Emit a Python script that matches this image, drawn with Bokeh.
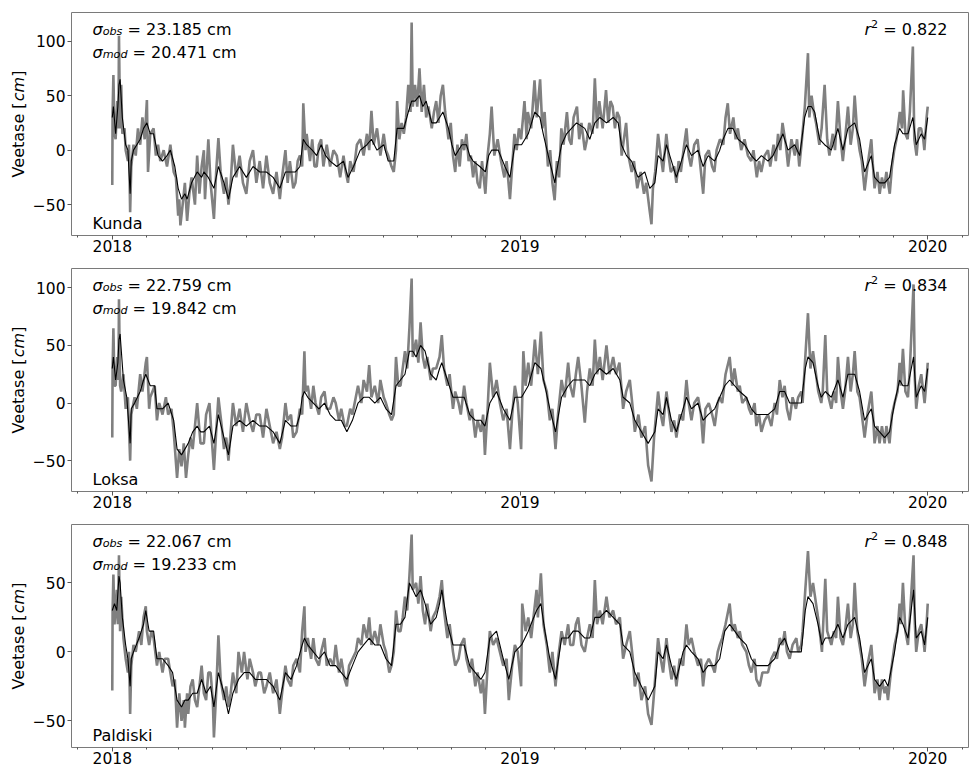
import datetime as dt
import math

from bokeh.core.properties import value
from bokeh.embed import file_html
from bokeh.layouts import column, row
from bokeh.models import FixedTicker, Label, Range1d
from bokeh.plotting import figure
from bokeh.resources import INLINE

# Sea level (cm) at three Estonian stations, 2018-2019.
# Each entry: (days since 2018-01-01, sea level in cm)

kunda_obs = [
    (0, -32), (0.3, 35), (1, 69), (2, 15), (3, 10), (4.5, 45), (5.5, 20), (6, 105), (7, 20), (8, 60),
    (9, 15), (11, 20), (12, 0), (14, -10), (15, 5), (16, -57), (17, -15), (19, 5), (21, -5), (23, 20),
    (25, 5), (27, 30), (29, 10), (31, 46), (32, -20), (34, 15), (37, 20), (39, -5), (41, 5), (43, -10),
    (46, 0), (49, -15), (52, 5), (55, -20), (57, -25), (59, -60), (60, -45), (61, -69), (63, -50), (65, -30),
    (67, -65), (69, -40), (71, -25), (74, -50), (76, -5), (78, -40), (80, -15), (82, 0), (83, -45), (86, 10),
    (88, -30), (91, -63), (93, -20), (95, 11), (97, -20), (100, -40), (102, -25), (104, -50), (106, -30), (108, 5),
    (111, -25), (114, -5), (117, -30), (120, -40), (123, -10), (126, 0), (129, -30), (132, -10), (135, -35), (138, -5),
    (141, -30), (144, -40), (147, -20), (150, -45), (152, -25), (155, 0), (157, -30), (159, -10), (162, -35), (164, -30),
    (166, -10), (168, -5), (170, -15), (171, 43), (173, 0), (174, 15), (177, -10), (179, 10), (181, -15), (183, -15),
    (185, 5), (187, 10), (189, -15), (192, 5), (195, -15), (198, 0), (201, -5), (204, -25), (207, -5), (209, -20),
    (211, -30), (213, -10), (216, -20), (219, 5), (222, 10), (225, -5), (228, 15), (230, 0), (232, 36), (234, 5),
    (237, 20), (240, -5), (243, 15), (245, 0), (247, -5), (250, -15), (252, -20), (254, 0), (255, 45), (257, 10),
    (259, 25), (261, 15), (263, 30), (265, 60), (267, 35), (268, 117), (269, 40), (271, 60), (273, 40), (275, 75),
    (277, 35), (279, 60), (281, 30), (283, 40), (286, 20), (288, 35), (290, 45), (292, 25), (294, 50), (296, 60),
    (298, 35), (301, 10), (303, 25), (305, -5), (307, -20), (309, 5), (311, -15), (313, 10), (315, 0), (317, 15),
    (319, -10), (321, -5), (323, -25), (325, -10), (327, -30), (329, -35), (331, -10), (334, -40), (336, -5), (338, 15),
    (339.6, 40), (342, -5), (345, 10), (348, -10), (351, -25), (353, -10), (356, -45), (358, -15), (360, 15), (362, 0),
    (364, 20), (366, 10), (369, 45), (371, 10), (372, 35), (375, 20), (378, 64), (380, 30), (383, 65), (385, 20),
    (387, 35), (390, -15), (392, 0), (394, -30), (396, -46), (398, -10), (400, -25), (402, 20), (404, 5), (407, 35),
    (409, 10), (411, 5), (413, 30), (416, 40), (418, 10), (420, 25), (423, 0), (425, 10), (427, 25), (430, 15),
    (432, 66), (434, 20), (436, 45), (439, 20), (442, 55), (444, 25), (446, 45), (448, 40), (450, 20), (452, 35),
    (454, 30), (456, -5), (458, 10), (460, 25), (462, -5), (465, -20), (467, -10), (470, -35), (473, -20), (476, -40),
    (478, -30), (481, -55), (482.7, -68), (484, -35), (486, -20), (488.6, 15), (491, -5), (493, -20), (496, 15), (498, -5),
    (500, -20), (503, -15), (505, -30), (507, -10), (509, -20), (512, 5), (514, 20), (516, -5), (518, -15), (521, 5),
    (524, 10), (526, -10), (529, -40), (531, -5), (534, 0), (537, -15), (539, -20), (541, 0), (544, 10), (547, 5),
    (549, 30), (551, 43), (553, 15), (556, 30), (558, 10), (560, 20), (563, 0), (566, 10), (569, -5), (572, -10),
    (574, 0), (577, -25), (579, -10), (581, -20), (584, -5), (587, 0), (589, -15), (592, 5), (594, -10), (596, 15),
    (598, 0), (600, 25), (603, 5), (605, -15), (608, 10), (611, -5), (613, 10), (615, -15), (617, 5), (620, 40),
    (622.8, 89), (624, 30), (626, 50), (628, 35), (630, 25), (633, 5), (635, 20), (637.7, 60), (640, 10), (642, -5),
    (645, 15), (647, 0), (649.6, 45), (652, 10), (654, -10), (656, 10), (658.6, 40), (661, 5), (663, 20), (664.6, 50),
    (667, 15), (669, 0), (671, -10), (673.5, -37), (676, -15), (679.5, 10), (681, -15), (682.4, -35), (685, -20), (687, -40),
    (689, -25), (691, -35), (693, -20), (696, -40), (698, -15), (700, 0), (702, 10), (705, 35), (707, 20), (708, 55),
    (710, 15), (712, 10), (714, 35), (716.7, 95), (718, 10), (720, -5), (722, 20), (724, 20), (726, 10), (727, 0),
    (729, 30), (730, 40),
]

kunda_mod = [
    (0, 30), (1, 40), (3, 15), (5, 40), (6, 60), (7, 65), (9, 30), (12, 5), (14, 0), (16, -40),
    (17, -10), (19, 0), (22, 5), (25, 10), (28, 20), (31, 25), (34, 15), (37, 15), (41, -5), (45, -10),
    (49, -5), (52, 0), (56, -15), (59, -35), (62, -45), (65, -40), (67, -45), (71, -30), (76, -20), (80, -25),
    (82, -20), (86, -25), (91, -35), (95, -15), (100, -30), (104, -45), (108, -25), (114, -15), (120, -25), (126, -15),
    (132, -20), (138, -20), (144, -25), (150, -35), (155, -20), (159, -20), (164, -20), (168, -15), (171, 10), (174, 5),
    (179, 0), (183, -5), (187, 5), (191, -5), (195, -10), (201, -15), (207, -10), (211, -25), (216, -15), (222, 0),
    (228, 5), (232, 10), (237, 0), (243, 5), (247, -10), (252, -10), (255, 20), (261, 20), (265, 35), (268, 45),
    (271, 45), (275, 50), (278, 40), (281, 45), (286, 25), (290, 25), (293, 30), (296, 35), (301, 20), (304, 5),
    (307, -5), (313, 5), (317, 5), (320, -5), (323, -10), (329, -15), (334, -20), (337, -5), (339.6, 0), (345.5, 0),
    (351.5, -15), (356, -25), (360.4, 5), (366.4, 5), (372.4, 15), (378.3, 35), (382.8, 30), (385.8, 15), (390.3, -5), (396.2, -30),
    (397.7, -20), (402.2, 5), (406.7, 15), (411.1, 20), (415.6, 25), (423, 20), (427.5, 10), (432, 25), (436.5, 30), (442.4, 25),
    (448.4, 30), (452.9, 25), (455.8, 5), (460.3, -5), (464.8, -10), (470.7, -25), (476.7, -20), (481.2, -35), (485.7, -30), (488.6, -5),
    (493.1, -10), (496.1, 5), (500.6, -10), (505, -25), (509.5, -10), (514, 5), (518.5, -5), (524.4, 0), (528.9, -15), (533.4, -5),
    (539.3, -10), (543.8, 0), (546.8, 10), (551.2, 20), (555.7, 20), (560.2, 10), (566.2, 5), (572.1, -5), (576.6, -10), (581.1, -5),
    (587, -10), (591.5, -5), (596, 5), (600.4, 15), (604.9, 0), (610.9, 5), (615.4, -5), (619.8, 30), (622.8, 40), (625.8, 40),
    (628.8, 35), (633.2, 10), (637.7, 5), (643.7, 0), (649.6, 20), (654.1, 0), (658.6, 20), (664.6, 25), (669, 10), (673.5, -20),
    (679.5, -5), (682.4, -25), (686.9, -30), (691.4, -30), (695.8, -25), (700.3, 5), (704.8, 20), (707.8, 15), (712.3, 15), (716.7, 30),
    (719.7, 5), (724.2, 15), (727.2, 10), (730, 30),
]

loksa_obs = [
    (0, -30), (0.3, 30), (1, 65), (2, 15), (3, 15), (4.5, 40), (5.5, 20), (6, 90), (7, 15), (8, 10),
    (10, 25), (12, -5), (14, 5), (16, -50), (17, -10), (20, 5), (22, -5), (25, 25), (27, 10), (30, 35),
    (31, 40), (33, -5), (34, 5), (38, 15), (40, -15), (42, 0), (45, -10), (48, 5), (50, -10), (53, -5),
    (55, -25), (58, -65), (60, -40), (62, -55), (64, -35), (66, -65), (68, -45), (70, -30), (72, -40), (74, -20),
    (76, 0), (79, -35), (82, -35), (84, -10), (87, 0), (89, -30), (91, -58), (93, -25), (95, 5), (98, -20),
    (100, -40), (102, -30), (104, -50), (106, -25), (108, 0), (111, -20), (114, -5), (117, -25), (120, 0), (123, -15),
    (126, -25), (129, -10), (132, -10), (135, -30), (138, -5), (141, -20), (144, -35), (147, -25), (150, -40), (152, -30),
    (155, 0), (157, -15), (160, -10), (162, -30), (165, -25), (168, -5), (170, -10), (172, 45), (173, 10), (175, 15),
    (178, -5), (180, 15), (182, 0), (185, -10), (187, 5), (190, 10), (192, -5), (195, -5), (198, 5), (200, 0),
    (203, -15), (205, -5), (208, -20), (210, -20), (213, -5), (215, -10), (218, 5), (220, 15), (223, 0), (225, 20),
    (228, 10), (230, 33), (232, 5), (235, 15), (238, 0), (240, 20), (243, 5), (245, 0), (248, -10), (250, -15),
    (252, -10), (254, 40), (256, 15), (258, 15), (260, 30), (262, 45), (264, 30), (266, 65), (268, 108), (269, 40),
    (272, 55), (274, 35), (276, 70), (278, 40), (280, 30), (282, 40), (285, 20), (287, 30), (290, 30), (293, 40),
    (295, 59), (297, 30), (300, 15), (302, 25), (305, -5), (307, 10), (310, 0), (312, -10), (315, 15), (317, 0),
    (320, -15), (322, -5), (325, -30), (327, -15), (330, -25), (332, -10), (333.6, -45), (336, -5), (338, 35), (341, 5),
    (344, 20), (347, 0), (350, -15), (353, -5), (356, -40), (358, -10), (360.4, 15), (363, 0), (366, -40), (368, 45),
    (370, 15), (372.4, 35), (375, 15), (378.3, 55), (381, 25), (383.7, 62), (386, 20), (389, 10), (391.7, -15), (394, -5),
    (396.8, -40), (399, -10), (402.2, 20), (405, 5), (408.1, 35), (410, 15), (412.6, 5), (415, 25), (417.1, 40), (420, 15),
    (423, -17), (425, 10), (427.5, 30), (430, 15), (432, 55), (434, 25), (436.5, 40), (439, 20), (442.4, 50), (445, 25),
    (448.4, 40), (451, 25), (454, 35), (457.3, -5), (460, 10), (463.3, 20), (466, -5), (467.8, -25), (471, -10), (473.7, -30),
    (477, -20), (479.7, -54), (482.7, -68), (485, -30), (488.6, 10), (491, -10), (493.1, -20), (496.1, 10), (498, -5), (500.6, -25),
    (503, -15), (505, -30), (508, -10), (511, -15), (514, 20), (516, 0), (518.5, -15), (521, 0), (524.4, 5), (527, -10),
    (528.9, -35), (531, -5), (534, 0), (537, -10), (539.3, -20), (542, 0), (543.8, 5), (546, 0), (549, 25), (552.7, 40),
    (555, 15), (557, 30), (560, 10), (561.7, 15), (564, 0), (567.6, 5), (570, -5), (572.1, -10), (575, 0), (576.6, -20),
    (579, -10), (581.1, -25), (584, -15), (587, -10), (590, -20), (593, 0), (595, -10), (597.5, 20), (600, 5), (601.9, 15),
    (604, -5), (606.4, -15), (609, 5), (612, -5), (614, 5), (616.8, 10), (618, 0), (620.4, 40), (622.8, 78), (625, 30),
    (627.3, 45), (630, 25), (632, 10), (634.7, 0), (636, 10), (638.3, 59), (640, 10), (643.7, -5), (646, 10), (648, 0),
    (649.6, 40), (652, 10), (654.1, -5), (656, 10), (658.6, 40), (661, 10), (663, 25), (664.6, 45), (667, 10), (669, 5),
    (671, -10), (673.5, -30), (676, -10), (679.5, 10), (681, -10), (682.4, -35), (685, -20), (686.9, -35), (689, -20), (691.4, -35),
    (693, -20), (695.8, -35), (698, -10), (700.3, 0), (703, 10), (704.8, 35), (706, 15), (707.8, 47), (710, 10), (712.3, 5),
    (714, 30), (717.3, 103), (718.5, 20), (719.7, -5), (722, 15), (724.2, 25), (726, 10), (727.2, 0), (729, 20), (730, 35),
]

loksa_mod = [
    (0, 30), (1, 40), (3, 20), (5, 35), (6, 55), (7, 60), (10, 20), (13, 5), (16, -35), (17, -5),
    (20, 0), (25, 10), (28, 20), (30, 25), (34, 15), (38, 15), (40, -5), (45, -5), (50, 0), (55, -15),
    (58, -40), (62, -45), (65, -40), (68, -35), (72, -25), (76, -20), (79, -25), (82, -25), (87, -20), (91, -35),
    (95, -10), (100, -30), (104, -45), (108, -20), (114, -15), (120, -20), (126, -15), (132, -20), (138, -20), (144, -25),
    (150, -35), (155, -15), (160, -20), (165, -20), (168, -10), (170, 5), (172, 10), (175, 5), (180, 0), (185, -5),
    (190, 0), (195, -10), (200, -15), (205, -15), (210, -25), (215, -15), (220, 0), (225, 5), (230, 5), (235, 0),
    (240, 5), (245, -5), (250, -10), (254, 15), (258, 20), (262, 25), (266, 45), (269, 45), (272, 40), (276, 50),
    (280, 45), (285, 25), (290, 20), (293, 30), (295, 35), (300, 20), (305, 5), (310, 5), (315, 5), (320, -10),
    (325, -15), (330, -15), (333.6, -20), (338, 0), (344, 10), (350, -5), (356, -15), (360.4, 5), (366.4, 5), (372.4, 15),
    (378.3, 35), (383.7, 30), (387.3, 15), (391.7, -5), (396.8, -25), (402.2, 5), (408.1, 15), (412.6, 20), (417.1, 20), (423, 20),
    (427.5, 15), (432, 25), (436.5, 30), (442.4, 25), (448.4, 30), (454.4, 20), (457.3, 5), (463.3, 0), (467.8, -15), (473.7, -25),
    (479.7, -35), (485.7, -25), (488.6, -5), (493.1, -10), (496.1, 5), (500.6, -15), (505, -25), (511, -5), (514, 5), (518.5, -5),
    (524.4, 0), (528.9, -15), (533.4, -10), (539.3, -5), (543.8, 5), (548.3, 15), (552.7, 20), (557.2, 15), (561.7, 10), (567.6, 5),
    (572.1, -5), (576.6, -10), (581.1, -10), (587, -10), (593, -5), (597.5, 10), (601.9, 10), (606.4, 0), (612.4, 0), (616.8, 0),
    (620.4, 30), (622.8, 40), (627.3, 35), (631.8, 15), (634.7, 5), (638.3, 10), (643.7, 5), (649.6, 20), (654.1, 5), (658.6, 25),
    (664.6, 25), (669, 10), (673.5, -15), (679.5, -5), (682.4, -20), (686.9, -25), (691.4, -30), (695.8, -25), (700.3, 0), (704.8, 20),
    (707.8, 15), (712.3, 15), (717.3, 40), (719.7, 5), (724.2, 15), (727.2, 10), (730, 30),
]

paldiski_obs = [
    (0, -28), (0.3, 30), (1, 56), (2, 20), (3, 30), (4, 45), (5, 20), (6, 70), (7, 15), (8, 40),
    (10, 10), (12, -5), (14, -15), (15, 0), (16, -45), (17, -10), (19, 5), (21, 0), (24, 15), (26, 5),
    (28, 25), (30, 33), (31, 15), (33, 5), (35, 15), (37, 10), (40, -10), (42, 0), (45, -15), (47, -5),
    (50, -5), (52, -15), (54, -25), (56, -20), (58, -55), (60, -30), (62, -50), (64, -35), (65, -55), (67, -30),
    (68, -45), (70, -25), (72, -20), (74, -35), (76, -40), (78, -25), (80, -10), (82, -30), (84, -35), (86, -15),
    (88, -15), (90, -35), (91, -62), (93, -30), (95, 12), (97, -20), (100, -35), (102, -25), (104, -40), (106, -30),
    (108, -15), (111, -30), (113, 0), (116, -15), (118, 0), (121, -20), (123, -5), (126, -15), (128, -25), (131, -15),
    (133, -15), (136, -30), (138, -25), (141, -15), (144, -30), (147, -20), (150, -45), (152, -30), (155, -10), (157, -20),
    (160, -25), (162, -10), (165, -5), (168, -15), (170, 15), (172, 33), (173, 0), (175, 10), (178, -5), (180, 10),
    (182, -5), (185, -10), (187, 0), (190, 10), (192, -10), (195, -5), (198, -10), (200, 5), (203, -15), (205, -5),
    (208, -20), (210, -25), (212, -10), (215, -5), (218, 0), (220, 10), (223, 5), (225, 20), (228, 10), (230, 25),
    (232, 5), (235, 15), (238, 5), (240, 20), (243, 5), (245, 0), (248, -15), (250, -10), (252, 0), (254, 30),
    (256, 15), (258, 15), (260, 25), (262, 40), (264, 30), (266, 55), (268, 85), (269, 45), (272, 50), (274, 35),
    (276, 55), (278, 30), (280, 20), (282, 35), (285, 15), (287, 25), (290, 30), (293, 40), (295, 52), (297, 30),
    (300, 10), (302, 20), (305, 0), (307, -10), (310, -5), (312, 5), (315, 10), (317, -5), (320, -15), (322, -5),
    (325, -25), (327, -15), (330, -30), (332, -20), (333.6, -45), (336, -10), (338, 15), (341, 5), (344, 10), (347, 0),
    (350, -10), (353, -5), (355, -35), (358, -10), (360.4, 5), (363, 0), (366, -25), (367, 35), (370, 15), (372.4, 25),
    (375, 10), (379.8, 45), (381, 25), (383.7, 57), (386, 20), (389, 5), (391.7, -15), (394, 0), (396.8, -25), (399, -5),
    (402.2, 15), (405, 5), (408.1, 20), (410, 5), (412.6, 5), (415, 20), (417.1, 25), (420, 5), (423, 0), (425, 10),
    (427.5, 20), (430, 10), (432, 52), (434, 20), (436.5, 30), (439, 20), (442.4, 40), (445, 25), (448.4, 30), (451, 20),
    (454.4, 25), (457.3, -5), (460, 5), (463.3, 15), (466, -5), (467.8, -25), (471, -15), (473.7, -35), (477, -25), (479.7, -45),
    (482.7, -53), (485, -30), (488.6, 10), (491, -5), (493.1, -15), (496.1, 10), (498, -5), (500.6, -20), (503, -10), (505, -25),
    (508, -5), (511, -10), (514, 20), (516, 5), (518.5, 10), (521, 0), (524.4, -10), (527, -5), (528.9, -25), (531, -10),
    (534, -5), (537, -10), (539.3, -15), (542, 0), (543.8, 5), (546, 10), (549, 20), (552.7, 35), (555, 15), (557.2, 20),
    (560, 10), (561.7, 15), (564, 5), (567.6, 0), (570, -10), (572.1, -15), (575, -5), (576.6, -20), (579.6, -25), (582, -15),
    (587, -15), (590, -5), (593, 0), (595, -5), (597.5, 10), (600, 5), (601.9, 15), (604, 0), (606.4, -5), (609, 5),
    (612.4, 10), (614, 0), (616.8, 5), (618, 15), (620.4, 45), (622.8, 73), (625, 40), (627.3, 50), (630, 35), (631.8, 25),
    (634, 10), (635.3, 0), (638.3, 53), (640, 15), (643.7, 5), (646, 15), (648, 10), (649.6, 40), (652, 10), (654.1, 5),
    (656, 15), (658.6, 35), (661, 10), (663, 20), (664.6, 50), (667, 15), (669, 5), (671, -5), (673.5, -25), (676, -10),
    (679.5, 5), (681, -10), (682.4, -30), (685, -20), (686.9, -35), (689, -20), (691.4, -30), (693, -25), (694.4, -35), (697, -15),
    (700.3, 5), (703, 15), (704.8, 35), (706, 20), (707.8, 50), (710, 15), (712.3, 5), (714, 25), (717.3, 70), (718.5, 20),
    (719.7, 0), (722, 15), (724.2, 20), (726, 10), (727.2, 0), (729, 20), (730, 35),
]

paldiski_mod = [
    (0, 30), (2, 35), (4, 30), (6, 55), (7, 50), (9, 25), (12, 5), (14, -5), (16, -25), (17, -5),
    (19, 0), (24, 10), (28, 20), (30, 30), (33, 15), (37, 15), (40, -5), (45, -5), (50, -10), (54, -15),
    (58, -35), (62, -40), (65, -35), (68, -35), (72, -30), (76, -30), (80, -20), (84, -30), (88, -25), (91, -40),
    (95, -15), (100, -30), (104, -45), (108, -30), (113, -20), (118, -15), (123, -15), (128, -20), (133, -20), (138, -20),
    (144, -25), (150, -35), (155, -15), (160, -20), (165, -10), (170, 5), (172, 10), (175, 5), (180, 0), (185, -5),
    (190, 0), (195, -10), (200, -10), (205, -15), (210, -20), (215, -10), (220, 0), (225, 5), (230, 10), (235, 5),
    (240, 5), (245, -5), (250, -10), (254, 20), (258, 20), (262, 25), (266, 50), (269, 45), (272, 40), (276, 45),
    (280, 35), (285, 20), (290, 25), (293, 35), (295, 45), (300, 20), (305, 5), (310, 5), (315, 5), (320, -10),
    (325, -15), (330, -20), (333.6, -15), (338, 10), (344, 15), (350, -5), (355, -20), (360.4, 0), (366.4, 5), (372.4, 15),
    (379.8, 30), (383.7, 35), (387.3, 15), (391.7, -5), (396.8, -20), (402.2, 10), (408.1, 10), (412.6, 15), (417.1, 15), (423, 10),
    (427.5, 10), (432, 25), (436.5, 25), (442.4, 30), (448.4, 25), (454.4, 20), (457.3, 5), (463.3, 0), (467.8, -15), (473.7, -25),
    (479.7, -35), (485.7, -25), (488.6, 0), (493.1, -5), (496.1, 5), (500.6, -10), (505, -20), (511, 0), (514, 5), (518.5, 0),
    (524.4, -5), (528.9, -15), (533.4, -10), (539.3, -10), (543.8, -5), (548.3, 15), (552.7, 20), (557.2, 15), (561.7, 10), (567.6, 5),
    (572.1, -5), (576.6, -10), (579.6, -10), (587, -10), (593, -5), (597.5, 5), (601.9, 10), (606.4, 0), (612.4, 0), (616.8, 0),
    (620.4, 30), (622.8, 40), (627.3, 35), (631.8, 20), (635.3, 5), (638.3, 10), (643.7, 10), (649.6, 20), (654.1, 10), (658.6, 20),
    (664.6, 25), (669, 10), (673.5, -15), (679.5, -5), (682.4, -20), (686.9, -25), (691.4, -20), (694.4, -25), (700.3, 0), (704.8, 25),
    (707.8, 20), (712.3, 10), (717.3, 45), (719.7, 10), (724.2, 15), (727.2, 5), (730, 25),
]

station_names = ["Kunda", "Loksa", "Paldiski"]
sigma_obs = ["23.185", "22.759", "22.067"]
sigma_mod = ["20.471", "19.842", "19.233"]
r_squared = ["0.822", "0.834", "0.848"]
y_ticks = [[-50, 0, 50, 100], [-50, 0, 50, 100], [-50, 0, 50]]
year_ticks = [0, 365, 730]
year_labels = ["2018", "2019", "2020"]

series = [(kunda_obs, kunda_mod), (loksa_obs, loksa_mod), (paldiski_obs, paldiski_mod)]

FONT = "DejaVu Sans"
TICK_SIZE = 15.5
TEXT_SIZE = 16.0
TITLE_W = 28          # strip holding the rotated y title
FRAME_W, FRAME_H = 897, 223
BOTTOM = 23

# DejaVu Sans advance widths (em) for the characters used in the annotations
ADVANCE = {
    "0": .636, "1": .636, "2": .636, "3": .636, "4": .636, "5": .636, "6": .636, "7": .636,
    "8": .636, "9": .636, ".": .318, " ": .318, "=": .838, "c": .550, "m": .974, "o": .612,
    "b": .635, "s": .521, "d": .635, "r": .411, "σ": .635, "V": .684, "e": .615, "t": .392,
    "a": .613, "[": .390, "]": .390,
}


def text_width(s, size):
    return sum(ADVANCE.get(ch, 0.6) for ch in s) * size


def rich_text(p, x, y, parts, size, align="left"):
    """Lay out runs of differently styled text one after another.

    parts: (text, italic, scale, rise) with rise as a fraction of the font size.
    Coordinates are screen pixels relative to the plot frame.
    """
    total = sum(text_width(t, size * sc) for t, _, sc, _ in parts)
    pos = x - total if align == "right" else x
    for t, italic, sc, rise in parts:
        fs = size * sc
        lead = len(t) - len(t.lstrip(" "))
        p.add_layout(Label(
            x=pos + text_width(" " * lead, fs), y=y + rise * size,
            x_units="screen", y_units="screen", text=t.lstrip(" "),
            text_font=FONT, text_font_size=f"{fs:.2f}px",
            text_font_style="italic" if italic else "normal",
            text_align="left", text_baseline="alphabetic",
            text_color="black",
        ))
        pos += text_width(t, fs)


def y_title(top):
    """Narrow strip to the left of a panel carrying the rotated axis title."""
    t = figure(
        width=TITLE_W, height=top + FRAME_H + BOTTOM,
        x_range=Range1d(0, TITLE_W), y_range=Range1d(0, FRAME_H),
        output_backend="svg", toolbar_location=None,
        min_border_left=0, min_border_right=0, min_border_top=top, min_border_bottom=BOTTOM,
    )
    t.axis.visible = False
    t.grid.visible = False
    t.outline_line_color = None
    t.background_fill_color = "white"
    t.border_fill_color = "white"
    parts = [("Veetase [", "normal"), ("cm", "italic"), ("]", "normal")]
    total = sum(text_width(s, TEXT_SIZE) for s, _ in parts)
    pos = FRAME_H / 2 - total / 2
    for s, style in parts:
        t.text(x=[18], y=[pos], text=[s], angle=math.pi / 2,
               text_font=value(FONT), text_font_size=value(f"{TEXT_SIZE}px"),
               text_font_style=style, text_align="left", text_baseline="alphabetic",
               text_color="black")
        pos += text_width(s, TEXT_SIZE)
    return t


# month starts for the minor ticks, as days since 2018-01-01
origin = dt.date(2018, 1, 1)
month_ticks = []
for yr in (2017, 2018, 2019, 2020):
    for mo in range(1, 13):
        d = (dt.date(yr, mo, 1) - origin).days
        if -40 <= d <= 770:
            month_ticks.append(d)

x_pad = 0.05 * (year_ticks[-1] - year_ticks[0])

rows = []
for i, (obs, mod) in enumerate(series):
    obs_x = [d for d, _ in obs]
    obs_y = [v for _, v in obs]
    mod_x = [d for d, _ in mod]
    mod_y = [v for _, v in mod]

    lo = min(obs_y + mod_y)
    hi = max(obs_y + mod_y)
    y_pad = 0.05 * (hi - lo)

    top = 12 if i == 0 else 10
    p = figure(
        width=970 - TITLE_W, height=top + FRAME_H + BOTTOM,
        x_range=Range1d(year_ticks[0] - x_pad, year_ticks[-1] + x_pad),
        y_range=Range1d(lo - y_pad, hi + y_pad),
        output_backend="svg", toolbar_location=None,
        min_border_left=71 - TITLE_W, min_border_right=2,
        min_border_top=top, min_border_bottom=BOTTOM,
    )
    p.background_fill_color = "white"
    p.border_fill_color = "white"
    p.outline_line_color = "#7a7a7a"
    p.outline_line_width = 1
    p.grid.visible = False

    p.line(obs_x, obs_y, line_color="#808080", line_width=2.6)
    p.line(mod_x, mod_y, line_color="black", line_width=1.1)

    xa = p.xaxis[0]
    xa.ticker = FixedTicker(ticks=year_ticks, minor_ticks=month_ticks)
    xa.major_label_overrides = dict(zip(year_ticks, year_labels))
    xa.axis_line_color = None
    xa.major_tick_line_color = "#555555"
    xa.minor_tick_line_color = "#555555"
    xa.major_tick_out = 4
    xa.major_tick_in = 0
    xa.minor_tick_out = 2
    xa.minor_tick_in = 0
    xa.major_label_standoff = 0
    xa.major_label_text_font = FONT
    xa.major_label_text_font_size = f"{TICK_SIZE}px"
    xa.major_label_text_color = "black"

    ya = p.yaxis[0]
    ya.ticker = FixedTicker(ticks=y_ticks[i])
    ya.major_label_overrides = {t: (f"\u2212{-t}" if t < 0 else str(t)) for t in y_ticks[i]}
    ya.axis_line_color = None
    ya.major_tick_line_color = "#555555"
    ya.major_tick_out = 4
    ya.major_tick_in = 0
    ya.minor_tick_out = 0
    ya.minor_tick_in = 0
    ya.major_label_standoff = 2
    ya.major_label_text_font = FONT
    ya.major_label_text_font_size = f"{TICK_SIZE}px"
    ya.major_label_text_color = "black"

    # statistics in the upper corners
    rich_text(p, 21, FRAME_H - 17, [
        ("σ", True, 1.0, 0.0), ("obs", True, 0.7, -0.15), (f" = {sigma_obs[i]} cm", False, 1.0, 0.0),
    ], TEXT_SIZE)
    rich_text(p, 21, FRAME_H - 40, [
        ("σ", True, 1.0, 0.0), ("mod", True, 0.7, -0.15), (f" = {sigma_mod[i]} cm", False, 1.0, 0.0),
    ], TEXT_SIZE)
    rich_text(p, FRAME_W - 21, FRAME_H - 17, [
        ("r", True, 1.0, 0.0), ("2", False, 0.7, 0.34), (f" = {r_squared[i]}", False, 1.0, 0.0),
    ], TEXT_SIZE, align="right")

    # station name
    p.add_layout(Label(
        x=21, y=12, x_units="screen", y_units="screen", text=station_names[i],
        text_font=FONT, text_font_size=f"{TEXT_SIZE}px", text_baseline="alphabetic",
        text_color="black",
    ))

    rows.append(row(y_title(top), p, spacing=0))

layout = column(*rows, spacing=0)
open("out.html", "w").write(file_html(layout, INLINE))
